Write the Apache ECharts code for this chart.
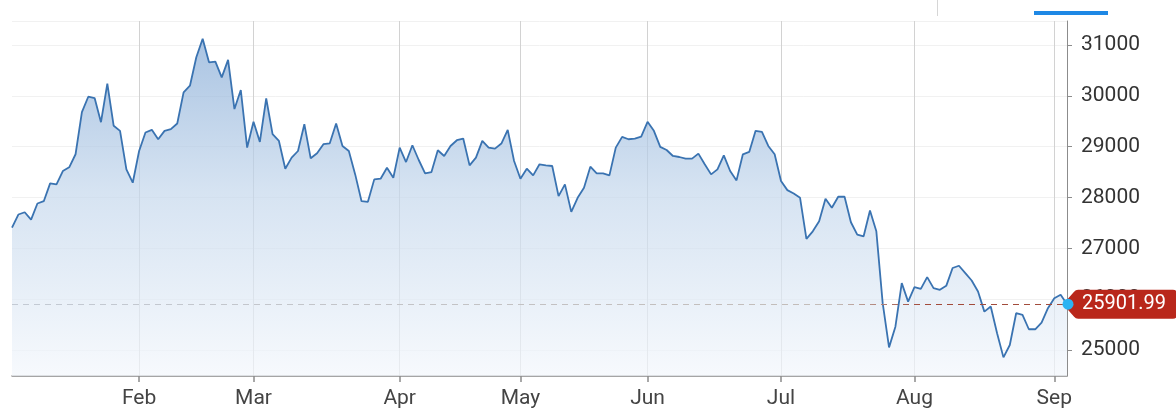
<!DOCTYPE html>
<html>
<head>
<meta charset="utf-8">
<script src="https://cdn.jsdelivr.net/npm/echarts@6/dist/echarts.min.js"></script>
<style>
html,body{margin:0;padding:0;background:#ffffff;}
#chart{width:1176px;height:411px;}
</style>
</head>
<body>
<div id="chart"></div>
<script>
// Trading days (2021) per month
const monthNames = ['Jan','Feb','Mar','Apr','May','Jun','Jul','Aug','Sep'];
const janDays = [4,5,6,7,8,11,12,13,14,15,18,19,20,21,22,25,26,27,28,29];
const febDays = [1,2,3,4,5,8,9,10,11,16,17,18,19,22,23,24,25,26];
const marDays = [1,2,3,4,5,8,9,10,11,12,15,16,17,18,19,22,23,24,25,26,29,30,31];
const aprDays = [1,7,8,9,12,13,14,15,16,19,20,21,22,23,26,27,28,29,30];
const mayDays = [3,4,5,6,7,10,11,12,13,14,17,18,20,21,24,25,26,27,28,31];
const junDays = [1,2,3,4,7,8,9,10,11,15,16,17,18,21,22,23,24,25,28,29,30];
const julDays = [2,5,6,7,8,9,12,13,14,15,16,19,20,21,22,23,26,27,28,29,30];
const augDays = [2,3,4,5,6,9,10,11,12,13,16,17,18,19,20,23,24,25,26,27,30,31];
const sepDays = [1,2,3];

// Closing values
const janVals = [27409,27665,27710,27566,27882,27927,28277,28257,28520,28593,28850,29678,29981,29955,29480,30240,29409,29310,28553,28290];
const febVals = [28914,29277,29330,29145,29310,29343,29455,30067,30198,30758,31120,30658,30671,30362,30705,29738,30113,28981];
const marVals = [29488,29093,29950,29244,29112,28566,28783,28914,29441,28770,28869,29047,29066,29455,29013,28914,28454,27927,27915,28356,28369,28586,28389];
const aprVals = [28981,28697,29027,28737,28474,28500,28928,28816,29013,29126,29159,28632,28783,29112,28981,28961,29060,29329,28717];
const mayVals = [28369,28566,28435,28652,28632,28619,28026,28257,27717,27994,28191,28605,28474,28474,28435,28981,29191,29145,29159,29197];
const junVals = [29488,29310,28994,28934,28816,28796,28764,28764,28863,28652,28454,28553,28829,28520,28336,28849,28895,29310,29290,29013,28849];
const julVals = [28323,28145,28079,27994,27185,27335,27533,27975,27797,28014,28014,27513,27270,27237,27744,27335,25922,25053,25460,26316,25953];
const augVals = [26237,26204,26435,26217,26184,26263,26613,26658,26514,26368,26151,25756,25855,25329,24856,25099,25724,25691,25409,25409,25539,25823];
const sepVals = [26020,26086,25901.99];

const yTickLabels = [25000,26000,27000,28000,29000,30000,31000];

const monthDays = [janDays,febDays,marDays,aprDays,mayDays,junDays,julDays,augDays,sepDays];
const monthVals = [janVals,febVals,marVals,aprVals,mayVals,junVals,julVals,augVals,sepVals];

const categories = [];
const values = [];
const firstOfMonth = {};
monthDays.forEach((days, mi) => {
  days.forEach((d, di) => {
    const c = '2021-' + String(mi + 1).padStart(2, '0') + '-' + String(d).padStart(2, '0');
    categories.push(c);
    values.push(monthVals[mi][di]);
    if (di === 0 && mi > 0) firstOfMonth[c] = monthNames[mi];
  });
});
const lastIdx = values.length - 1;
const lastVal = values[lastIdx];
const isMonthStart = (idx, val) => firstOfMonth.hasOwnProperty(val);

const chart = echarts.init(document.getElementById('chart'), null, {renderer: 'canvas'});
const FONT = 'Roboto';

chart.setOption({
  animation: false,
  backgroundColor: '#ffffff',
  grid: {left: 12, right: 109, top: 21, bottom: 35},
  xAxis: {
    type: 'category',
    data: categories,
    boundaryGap: false,
    axisLine: {lineStyle: {color: '#8c8c8c', width: 1.5}},
    axisTick: {show: true, interval: isMonthStart, length: 6, lineStyle: {color: '#8c8c8c', width: 1.5}},
    axisLabel: {
      interval: isMonthStart,
      formatter: v => firstOfMonth[v] || '',
      color: '#444444', fontFamily: FONT, fontSize: 21, margin: 12
    },
    splitLine: {show: true, interval: isMonthStart, lineStyle: {color: '#d2d2d2', width: 1}}
  },
  yAxis: {
    type: 'value',
    position: 'right',
    min: 24490,
    max: 31470,
    splitNumber: 5,
    axisLine: {show: true, lineStyle: {color: '#8c8c8c', width: 1}},
    axisTick: {show: true, length: 5, lineStyle: {color: '#8c8c8c'}},
    axisLabel: {
      showMinLabel: false, showMaxLabel: false,
      formatter: v => (yTickLabels.indexOf(v) >= 0 ? String(v) : ''),
      color: '#333333', fontFamily: FONT, fontSize: 21, margin: 14
    },
    splitLine: {show: true, lineStyle: {color: '#f1f1f1', width: 1}}
  },
  series: [{
    type: 'line',
    data: values,
    showSymbol: false,
    symbol: 'none',
    smooth: false,
    lineStyle: {color: '#3a73b1', width: 1.8},
    areaStyle: {
      color: new echarts.graphic.LinearGradient(0, 0, 0, 1, [
        {offset: 0, color: '#86abd6'},
        {offset: 0.45, color: '#c4d7ec'},
        {offset: 1, color: '#f3f7fc'}
      ])
    },
    markLine: {
      silent: true,
      symbol: 'none',
      label: {show: false},
      lineStyle: {
        type: [6, 5],
        width: 1.2,
        color: new echarts.graphic.LinearGradient(0, 0, 1, 0, [
          {offset: 0, color: '#c3cad4'},
          {offset: 0.78, color: '#c3bcb8'},
          {offset: 0.86, color: '#a24b3b'},
          {offset: 1, color: '#a24b3b'}
        ])
      },
      data: [{yAxis: lastVal}]
    },
    markPoint: {
      silent: true,
      data: [
        {
          coord: [lastIdx, lastVal],
          value: lastVal,
          symbol: 'path://M0,14.5 L11,2 Q12.5,0 15,0 L109,0 Q113,0 113,4 L113,25 Q113,29 109,29 L15,29 Q12.5,29 11,27 Z',
          symbolSize: [114, 29],
          symbolOffset: [53, 0],
          itemStyle: {color: '#b9271b'},
          label: {
            show: true, position: 'inside', offset: [4, 0],
            formatter: p => Number(p.value).toFixed(2),
            color: '#ffffff', fontFamily: FONT, fontSize: 20
          }
        },
        {
          coord: [lastIdx, lastVal],
          value: lastVal,
          symbol: 'circle',
          symbolSize: 11,
          symbolOffset: [1, 0],
          itemStyle: {color: '#2cb3f2'},
          label: {show: false}
        }
      ]
    }
  }],
  graphic: [
    {type: 'rect', left: 1034, top: 11, shape: {width: 74, height: 4}, style: {fill: '#1e88e5'}},
    {type: 'line', shape: {x1: 937.5, y1: 0, x2: 937.5, y2: 16}, style: {stroke: '#d6d6d6', lineWidth: 1}}
  ]
});
</script>
</body>
</html>
